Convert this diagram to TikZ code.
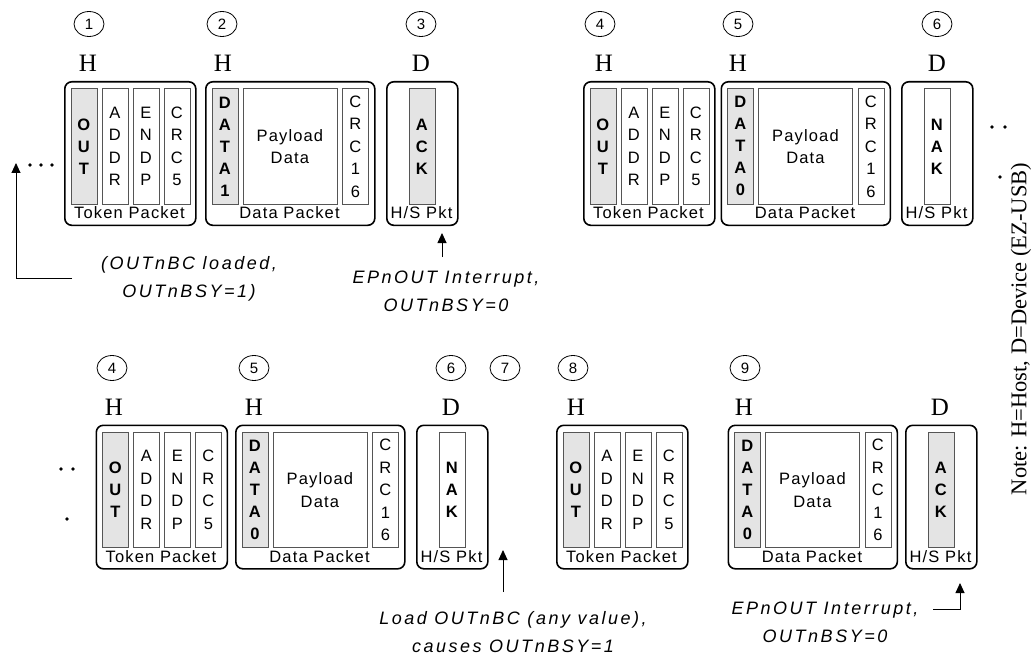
\documentclass[tikz,border=0pt]{standalone}
\usepackage{fontspec}
\usepackage{xcolor}
\usepackage{tikz}
\usetikzlibrary{arrows.meta,shapes.geometric}
\newfontfamily\pktfont[LetterSpace=7]{Liberation Sans}
\newfontfamily\notefont[LetterSpace=14]{Liberation Sans}
\newfontfamily\hdfont{Liberation Serif}
\definecolor{PidGray}{HTML}{E4E4E4}
\definecolor{FieldLine}{HTML}{555555}

\newcommand\tokenpkt[3]{%
\node[pktbox=131pt] (#1) at (#2,#3) {};
\node[grayfield] (#1-pid) at (#2+6.5,#3+7.5) {O\\U\\T};
\node[field] (#1-addr) at (#2+37.5,#3+7.5) {A\\D\\D\\R};
\node[field] (#1-endp) at (#2+68.5,#3+7.5) {E\\N\\D\\P};
\node[field] (#1-crc) at (#2+99.5,#3+7.5) {C\\R\\C\\5};
\node[pktlabel] (#1-lbl) at (#2+65.5,#3+132) {Token Packet};
}
\newcommand\datapkt[4]{%
\node[pktbox=169pt] (#1) at (#2,#3) {};
\node[grayfield] (#1-pid) at (#2+6.5,#3+7.5) {D\\A\\T\\A\\#4};
\node[field,minimum width=94pt] (#1-pay) at (#2+37.5,#3+7.5) {Payload\\Data};
\node[field] (#1-crc) at (#2+137,#3+7.5) {C\\R\\C\\1\\6};
\node[pktlabel] (#1-lbl) at (#2+84.5,#3+132) {Data Packet};
}
\newcommand\hspkt[5]{%
\node[pktbox=71pt] (#1) at (#2,#3) {};
\node[#4] (#1-pid) at (#2+22.5,#3+7.5) {#5};
\node[pktlabel] (#1-lbl) at (#2+35.5,#3+132) {H/S Pkt};
}

\begin{document}
\begin{tikzpicture}[x=1pt,y=-1pt,
  pktbox/.style={draw,line width=1.6pt,rounded corners=7pt,minimum width=#1,minimum height=143.5pt,inner sep=0pt,anchor=north west},
  field/.style={draw=FieldLine,line width=0.8pt,minimum width=26pt,minimum height=115pt,inner sep=0pt,anchor=north west,align=center,font=\pktfont\fontsize{16.5}{22.5}\selectfont},
  pidfield/.style={field,font=\pktfont\bfseries\fontsize{16.5}{22}\selectfont},
  grayfield/.style={pidfield,fill=PidGray},
  pktlabel/.style={inner sep=0pt,font=\pktfont\fontsize{16.5}{18}\selectfont},
  stepnum/.style={draw,ellipse,line width=0.8pt,minimum width=30pt,minimum height=25pt,inner sep=0pt,font=\pktfont\fontsize{15}{16}\selectfont},
  side/.style={inner sep=0pt,font=\hdfont\fontsize{25}{27}\selectfont},
  annot/.style={align=center,inner sep=0pt,font=\notefont\itshape\fontsize{18}{28}\selectfont},
  annarrow/.style={line width=0.9pt,-{Triangle[length=10pt,width=9pt]}}]
\path[use as bounding box] (0,0) rectangle (1035,655);

\node[stepnum] (n1) at (89,24) {1};
\node[stepnum] (n2) at (222,24) {2};
\node[stepnum] (n3) at (421,24) {3};
\node[stepnum] (n4) at (600,24) {4};
\node[stepnum] (n5) at (738,24) {5};
\node[stepnum] (n6) at (937,24) {6};
\node[side] (s1) at (88,63) {H};
\node[side] (s2) at (223,63) {H};
\node[side] (s3) at (421,63) {D};
\node[side] (s4) at (604,63) {H};
\node[side] (s5) at (738,63) {H};
\node[side] (s6) at (937,63) {D};

\tokenpkt{tokA}{64}{81}
\datapkt{dataA}{205}{81}{1}
\hspkt{hsA}{386}{81}{grayfield}{A\\C\\K}
\tokenpkt{tokB}{583}{81}
\datapkt{dataB}{720.5}{81}{0}
\hspkt{hsB}{901}{81}{pidfield}{N\\A\\K}

\node[stepnum] (m4) at (112,368) {4};
\node[stepnum] (m5) at (254,368) {5};
\node[stepnum] (m6) at (451,368) {6};
\node[stepnum] (m7) at (505,368) {7};
\node[stepnum] (m8) at (573,368) {8};
\node[stepnum] (m9) at (745,368) {9};
\node[side] (t1) at (114,407) {H};
\node[side] (t2) at (254,407) {H};
\node[side] (t3) at (451,407) {D};
\node[side] (t4) at (576,407) {H};
\node[side] (t5) at (744,407) {H};
\node[side] (t6) at (940,407) {D};

\tokenpkt{tokC}{95.5}{424.5}
\datapkt{dataC}{235}{424.5}{0}
\hspkt{hsC}{416}{424.5}{pidfield}{N\\A\\K}
\tokenpkt{tokD}{556}{424.5}
\datapkt{dataD}{727.5}{424.5}{0}
\hspkt{hsD}{905}{424.5}{grayfield}{A\\C\\K}

\fill (30,165) circle[radius=1.9pt] (41,165) circle[radius=1.9pt] (52,165) circle[radius=1.9pt];
\fill (992,127) circle[radius=1.9pt] (1005,127) circle[radius=1.9pt] (1000,177) circle[radius=1.9pt];
\fill (61,469) circle[radius=1.9pt] (73,469) circle[radius=1.9pt] (67,519) circle[radius=1.9pt];

\node[annot] (loaded) at (189,278.5) {(OUTnBC loaded,\\OUTnBSY=1)};
\node[annot] (intA) at (446,291) {EPnOUT Interrupt,\\OUTnBSY=0};
\node[annot] (loadbc) at (513,632) {Load OUTnBC (any value),\\causes OUTnBSY=1};
\node[annot] (intB) at (825,622) {EPnOUT Interrupt,\\OUTnBSY=0};

\coordinate (loadedfoot) at (72,278);
\coordinate (loadedtip) at (16,163);
\draw[annarrow] (loadedfoot) -| (loadedtip);
\coordinate (intAfoot) at (442,257);
\coordinate (intAtip) at (442,233);
\draw[annarrow] (intAfoot) -- (intAtip);
\coordinate (loadbcfoot) at (503,592);
\coordinate (loadbctip) at (503,550);
\draw[annarrow] (loadbcfoot) -- (loadbctip);
\coordinate (intBfoot) at (933,609);
\coordinate (intBtip) at (960,583);
\draw[annarrow] (intBfoot) -| (intBtip);

\node[rotate=90,inner sep=0pt,font=\hdfont\fontsize{22.5}{24}\selectfont] (note) at (1021,329) {Note: H=Host, D=Device (EZ-USB)};
\end{tikzpicture}
\end{document}
